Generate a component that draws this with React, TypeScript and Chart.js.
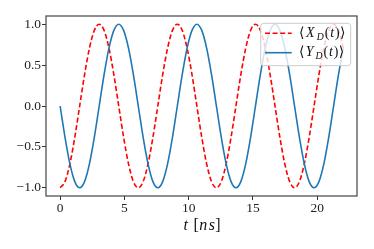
import React, { useEffect, useRef } from "react";
import { Chart, registerables } from "chart.js";

Chart.register(...registerables);

// time in ns
const T_NS = [
  0, 0.38, 0.76, 1.14, 1.52, 1.9, 2.28, 2.66, 3.04, 3.42, 3.8, 4.18, 4.56, 4.94, 5.32, 5.7,
  6.08, 6.46, 6.84, 7.22, 7.6, 7.98, 8.36, 8.74, 9.12, 9.5, 9.88, 10.26, 10.64, 11.02, 11.4, 11.78,
  12.16, 12.54, 12.92, 13.3, 13.68, 14.06, 14.44, 14.82, 15.2, 15.58, 15.96, 16.34, 16.72, 17.1, 17.48, 17.86,
  18.24, 18.62, 19.0, 19.38, 19.76, 20.14, 20.52, 20.9, 21.28, 21.66, 22.04,
];

// <X_D(t)>
const X_D = [
  -1, -0.924, -0.707, -0.383, 0, 0.383, 0.707, 0.924, 1, 0.924, 0.707, 0.383, 0, -0.383, -0.707, -0.924,
  -1, -0.924, -0.707, -0.383, 0, 0.383, 0.707, 0.924, 1, 0.924, 0.707, 0.383, 0, -0.383, -0.707, -0.924,
  -1, -0.924, -0.707, -0.383, 0, 0.383, 0.707, 0.924, 1, 0.924, 0.707, 0.383, 0, -0.383, -0.707, -0.924,
  -1, -0.924, -0.707, -0.383, 0, 0.383, 0.707, 0.924, 1, 0.924, 0.707,
];

// <Y_D(t)>
const Y_D = [
  0, -0.383, -0.707, -0.924, -1, -0.924, -0.707, -0.383, 0, 0.383, 0.707, 0.924, 1, 0.924, 0.707, 0.383,
  0, -0.383, -0.707, -0.924, -1, -0.924, -0.707, -0.383, 0, 0.383, 0.707, 0.924, 1, 0.924, 0.707, 0.383,
  0, -0.383, -0.707, -0.924, -1, -0.924, -0.707, -0.383, 0, 0.383, 0.707, 0.924, 1, 0.924, 0.707, 0.383,
  0, -0.383, -0.707, -0.924, -1, -0.924, -0.707, -0.383, 0, 0.383, 0.707,
];

const X_TICKS = [0, 5, 10, 15, 20];
const Y_TICKS = [-1, -0.5, 0, 0.5, 1];

const RED = "#ff0000";
const BLUE = "#1f77b4";
const SERIF = "'Liberation Serif', 'DejaVu Serif', serif";

type Seg = { s: string; it?: boolean; sub?: boolean; w: number };

// Math-like labels: each glyph with its advance (in em)
const LABEL_X: Seg[] = [
  { s: "⟨", w: 0.389 },
  { s: "X", it: true, w: 0.85 },
  { s: "D", it: true, sub: true, w: 0.83 },
  { s: "(", w: 0.389 },
  { s: "t", it: true, w: 0.361 },
  { s: ")", w: 0.389 },
  { s: "⟩", w: 0.389 },
];
const LABEL_Y: Seg[] = [
  { s: "⟨", w: 0.389 },
  { s: "Y", it: true, w: 0.76 },
  { s: "D", it: true, sub: true, w: 0.83 },
  { s: "(", w: 0.389 },
  { s: "t", it: true, w: 0.361 },
  { s: ")", w: 0.389 },
  { s: "⟩", w: 0.389 },
];
const X_TITLE: Seg[] = [
  { s: "t", it: true, w: 0.361 },
  { s: " ", w: 0.333 },
  { s: "[", w: 0.278 },
  { s: "n", it: true, w: 0.6 },
  { s: "s", it: true, w: 0.469 },
  { s: "]", w: 0.278 },
];

function segWidth(segs: Seg[], size: number) {
  return segs.reduce((a, g) => a + g.w * size * (g.sub ? 0.7 : 1), 0);
}

function drawMath(ctx: CanvasRenderingContext2D, segs: Seg[], x: number, baseline: number, size: number) {
  let cx = x;
  ctx.textAlign = "center";
  ctx.textBaseline = "alphabetic";
  for (const g of segs) {
    const fs = g.sub ? size * 0.7 : size;
    const adv = g.w * fs;
    ctx.font = `${g.it ? "italic " : ""}${fs}px ${SERIF}`;
    ctx.fillText(g.s, cx + adv / 2, baseline + (g.sub ? size * 0.2 : 0));
    cx += adv;
  }
}

const decorPlugin = {
  id: "decor",
  afterDraw(chart: any) {
    const { ctx, chartArea } = chart;
    const { left, right, top, bottom } = chartArea;
    ctx.save();
    // frame
    ctx.strokeStyle = "#444";
    ctx.lineWidth = 1.2;
    ctx.strokeRect(left, top, right - left, bottom - top);

    // x title
    ctx.fillStyle = "#111";
    const ts = 16;
    const tw = segWidth(X_TITLE, ts);
    drawMath(ctx, X_TITLE, (left + right) / 2 - tw / 2, 230, ts);

    // legend box
    const bw = 90;
    const bh = 42.4;
    const bx = right - 6.3 - bw;
    const by = top + 7.3;
    ctx.beginPath();
    if ((ctx as any).roundRect) (ctx as any).roundRect(bx, by, bw, bh, 3);
    else ctx.rect(bx, by, bw, bh);
    ctx.fillStyle = "rgba(255,255,255,0.8)";
    ctx.fill();
    ctx.strokeStyle = "#cccccc";
    ctx.lineWidth = 1;
    ctx.stroke();

    const rows = [
      { y: by + 10, color: RED, dash: [5, 2.6], segs: LABEL_X },
      { y: by + 29.4, color: BLUE, dash: [] as number[], segs: LABEL_Y },
    ];
    const ls = 13.9;
    for (const r of rows) {
      ctx.beginPath();
      ctx.setLineDash(r.dash);
      ctx.strokeStyle = r.color;
      ctx.lineWidth = 1.6;
      ctx.moveTo(bx + 4.3, r.y);
      ctx.lineTo(bx + 31, r.y);
      ctx.stroke();
      ctx.setLineDash([]);
      ctx.fillStyle = "#111";
      drawMath(ctx, r.segs, bx + 38.3, r.y + 0.25 * ls, ls);
    }
    ctx.restore();
  },
};

export default function App() {
  const ref = useRef<HTMLCanvasElement | null>(null);

  useEffect(() => {
    if (!ref.current) return;
    const tickFont = { family: SERIF, size: 13.5 };
    const chart = new Chart(ref.current, {
      type: "line",
      data: {
        datasets: [
          {
            label: "⟨X_D(t)⟩",
            data: T_NS.map((t, i) => ({ x: t, y: X_D[i] })),
            borderColor: RED,
            borderWidth: 1.6,
            borderDash: [5, 2.6],
            pointRadius: 0,
            cubicInterpolationMode: "monotone",
            fill: false,
            order: 1,
          },
          {
            label: "⟨Y_D(t)⟩",
            data: T_NS.map((t, i) => ({ x: t, y: Y_D[i] })),
            borderColor: BLUE,
            borderWidth: 1.6,
            pointRadius: 0,
            cubicInterpolationMode: "monotone",
            fill: false,
            order: 0,
          },
        ],
      },
      options: {
        animation: false,
        responsive: false,
        devicePixelRatio: 1,
        layout: { padding: { left: 0, top: 16, right: 17, bottom: 0 } },
        plugins: { legend: { display: false }, title: { display: false }, tooltip: { enabled: false } },
        scales: {
          x: {
            type: "linear",
            min: -1.1,
            max: 23.1,
            afterBuildTicks: (s: any) => {
              s.ticks = X_TICKS.map((v) => ({ value: v }));
            },
            afterFit: (s: any) => {
              s.height = 53;
            },
            ticks: {
              font: tickFont,
              color: "#222",
              padding: 0,
              maxRotation: 0,
              autoSkip: false,
              callback: (v: any) => String(v),
            },
            grid: { display: true, drawOnChartArea: false, drawTicks: true, tickLength: 4, color: "#333", lineWidth: 1 },
            border: { display: false },
          },
          y: {
            min: -1.1,
            max: 1.1,
            afterBuildTicks: (s: any) => {
              s.ticks = Y_TICKS.map((v) => ({ value: v }));
            },
            afterFit: (s: any) => {
              s.width = 46;
            },
            ticks: {
              font: tickFont,
              color: "#222",
              padding: 1,
              autoSkip: false,
              callback: (v: any) => (v < 0 ? "−" : "") + Math.abs(Number(v)).toFixed(1),
            },
            grid: { display: true, drawOnChartArea: false, drawTicks: true, tickLength: 4, color: "#333", lineWidth: 1 },
            border: { display: false },
          },
        },
      },
      plugins: [decorPlugin],
    } as any);
    return () => chart.destroy();
  }, []);

  return (
    <div style={{ position: "absolute", left: 0, top: 0, width: 374, height: 249, background: "#fff" }}>
      <canvas ref={ref} width={374} height={249} style={{ width: 374, height: 249, display: "block" }} />
    </div>
  );
}
